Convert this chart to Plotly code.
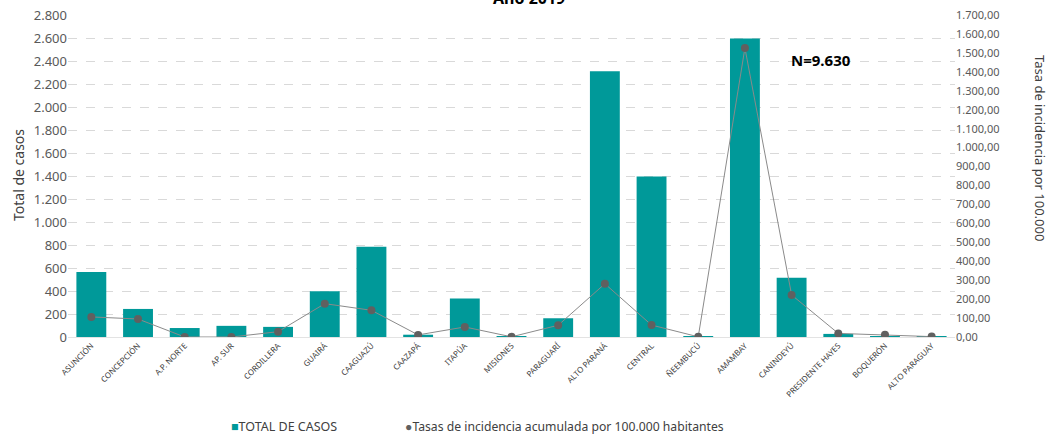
import plotly.graph_objects as go

departamentos = [
    "ASUNCIÓN", "CONCEPCIÓN", "A.P. NORTE", "AP. SUR", "CORDILLERA", "GUAIRÁ",
    "CAAGUAZÚ", "CAAZAPÁ", "ITAPÚA", "MISIONES", "PARAGUARÍ", "ALTO PARANÁ",
    "CENTRAL", "ÑEEMBUCÚ", "AMAMBAY", "CANINDEYÚ", "PRESIDENTE HAYES",
    "BOQUERÓN", "ALTO PARAGUAY",
]
total_casos = [565, 244, 78, 97, 88, 398, 785, 20, 335, 5, 163, 2310,
               1395, 1, 2595, 515, 27, 7, 2]
tasa_incidencia = [106, 95, 0, 0, 28, 176, 141, 11, 53, 1, 62, 281,
                   63, 1, 1526, 222, 19, 12, 2]

left_ticks = list(range(0, 2801, 200))
right_ticks = list(range(0, 1701, 100))

FONT = "Noto Sans"
TEAL = "#009999"
DOT = "#606060"
GRID = "#d9d9d9"

# plot area in pixels: x 68..955, y 15..337
PX_L, PX_R, PX_T, PX_B = 68, 955, 15, 337


def px_x(x):
    return (x - PX_L) / (PX_R - PX_L)


def px_y(y):
    return (PX_B - y) / (PX_B - PX_T)


fig = go.Figure()

fig.add_trace(go.Bar(
    x=departamentos, y=total_casos, name="TOTAL DE CASOS",
    marker=dict(color=TEAL, line=dict(width=0)),
    yaxis="y",
))
fig.add_trace(go.Scatter(
    x=departamentos, y=tasa_incidencia, mode="lines+markers",
    name="Tasas de incidencia acumulada por 100.000 habitantes",
    line=dict(color="#8a8a8a", width=1),
    marker=dict(color=DOT, size=8),
    yaxis="y2",
))

fig.update_layout(
    width=1051, height=434,
    margin=dict(l=PX_L, r=1051 - PX_R, t=PX_T, b=434 - PX_B, autoexpand=False),
    paper_bgcolor="white", plot_bgcolor="white",
    separators=",.",
    font=dict(family=FONT, color="#404040"),
    bargap=0.36,
    showlegend=False,
    xaxis=dict(
        type="category", tickangle=-45, tickfont=dict(size=8, color="#404040"),
        showgrid=False, showline=True, linecolor="#e3e3e3", linewidth=1,
        ticks="", range=[-0.5, len(departamentos) - 0.5], automargin=False,
    ),
    yaxis=dict(
        range=[0, 2800], tickvals=left_ticks, tickformat=",d",
        tickfont=dict(size=13, color="#595959"),
        showgrid=True, gridcolor=GRID, griddash="dash", gridwidth=1,
        zeroline=False, ticks="", ticklen=0, automargin=False,
    ),
    yaxis2=dict(
        range=[0, 1700], tickvals=right_ticks, tickformat=",.2f",
        tickfont=dict(size=11, color="#595959"),
        overlaying="y", side="right", showgrid=False, zeroline=False,
        ticks="", automargin=False,
    ),
    annotations=[
        dict(text="<b>Año 2019</b>", xref="paper", yref="paper", x=0.52, y=1,
             yanchor="middle", yshift=17, showarrow=False,
             font=dict(size=16, color="#000000")),
        dict(text="<b>N=9.630</b>", xref="paper", yref="paper",
             x=px_x(821), xanchor="center", y=px_y(48), showarrow=False,
             font=dict(size=15, color="#000000")),
        dict(text="Total de casos", xref="paper", yref="paper",
             x=px_x(18), xanchor="center", y=px_y(175), textangle=-90,
             showarrow=False, font=dict(size=14, color="#404040")),
        dict(text="Tasa de incidencia por 100.000", xref="paper", yref="paper",
             x=px_x(1040), xanchor="center", y=px_y(148), textangle=90,
             showarrow=False, font=dict(size=13, color="#404040")),
        # legend
        dict(text=f'<span style="color:{TEAL}">■</span>TOTAL DE CASOS',
             xref="paper", yref="paper", x=px_x(229), xanchor="left",
             y=px_y(426), yanchor="middle", showarrow=False,
             font=dict(size=12.5, color="#404040")),
        dict(text=f'<span style="color:{DOT}">●</span>Tasas de incidencia '
                  'acumulada por 100.000 habitantes',
             xref="paper", yref="paper", x=px_x(403), xanchor="left",
             y=px_y(426), yanchor="middle", showarrow=False,
             font=dict(size=12.2, color="#404040")),
    ],
)

fig.write_html("out.html")
